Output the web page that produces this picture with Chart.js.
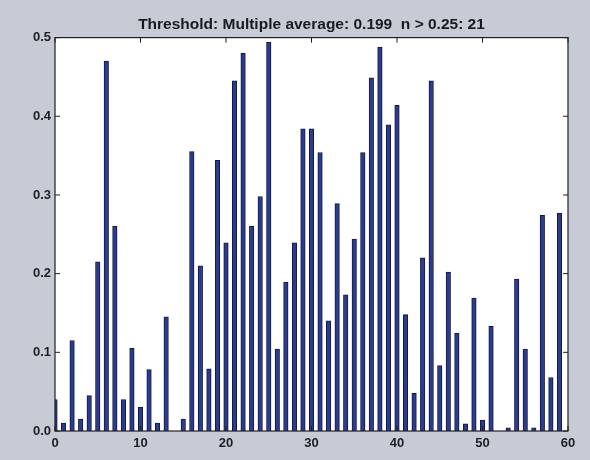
<!DOCTYPE html>
<html>
<head>
<meta charset="utf-8">
<script src="https://cdn.jsdelivr.net/npm/chart.js@4"></script>
<style>
  html, body { margin: 0; padding: 0; background: #c7cbd6; }
  #wrap { width: 590px; height: 460px; position: relative; }
</style>
</head>
<body>
<div id="wrap"><canvas id="thresholdChart"></canvas></div>
<script>
// valores (índice 0..59)
const titleText = 'Threshold: Multiple average: 0.199  n > 0.25: 21';
const positions = [];
for (let i = 0; i < 60; i++) positions.push(i);
const values = [
  0.040, 0.010, 0.115, 0.015, 0.045, 0.215, 0.470, 0.260, 0.040, 0.105,
  0.030, 0.078, 0.010, 0.145, 0.000, 0.015, 0.355, 0.210, 0.079, 0.344,
  0.239, 0.445, 0.480, 0.260, 0.298, 0.494, 0.104, 0.189, 0.239, 0.384,
  0.384, 0.354, 0.140, 0.289, 0.173, 0.244, 0.354, 0.449, 0.488, 0.389,
  0.414, 0.148, 0.048, 0.220, 0.445, 0.083, 0.202, 0.124, 0.009, 0.169,
  0.014, 0.133, 0.000, 0.004, 0.193, 0.104, 0.004, 0.274, 0.068, 0.277
];
const xTicks = [0, 10, 20, 30, 40, 50, 60];
const yTicks = [0, 0.1, 0.2, 0.3, 0.4, 0.5];

// caixa e ticks internos estilo MATLAB
const matlabFrame = {
  id: 'matlabFrame',
  afterLayout(chart) {
    // centraliza o título sobre a área do gráfico
    const t = chart.titleBlock;
    if (t) {
      t.left = chart.chartArea.left;
      t.right = chart.chartArea.right;
      t.width = t.right - t.left;
    }
  },
  beforeDatasetsDraw(chart) {
    const { ctx, chartArea: a } = chart;
    ctx.save();
    ctx.fillStyle = '#ffffff';
    ctx.fillRect(a.left, a.top, a.right - a.left, a.bottom - a.top);
    ctx.restore();
  },
  afterDraw(chart) {
    const { ctx, chartArea: a, scales } = chart;
    const len = 5;
    ctx.save();
    ctx.strokeStyle = '#1e1e24';
    ctx.lineWidth = 1.2;
    ctx.strokeRect(a.left, a.top, a.right - a.left, a.bottom - a.top);
    ctx.lineWidth = 1;
    ctx.beginPath();
    xTicks.forEach(v => {
      const x = scales.x.getPixelForValue(v);
      ctx.moveTo(x, a.bottom); ctx.lineTo(x, a.bottom - len);
      ctx.moveTo(x, a.top); ctx.lineTo(x, a.top + len);
    });
    yTicks.forEach(v => {
      const y = scales.y.getPixelForValue(v);
      ctx.moveTo(a.left, y); ctx.lineTo(a.left + len, y);
      ctx.moveTo(a.right, y); ctx.lineTo(a.right - len, y);
    });
    ctx.stroke();
    ctx.restore();
  }
};

const ctx = document.getElementById('thresholdChart');
new Chart(ctx, {
  type: 'bar',
  data: {
    datasets: [{
      data: positions.map((p, i) => ({ x: p, y: values[i] })),
      backgroundColor: '#2b3c90',
      borderColor: '#14183a',
      borderWidth: 1,
      barThickness: 4.5,
      clip: 0
    }]
  },
  options: {
    responsive: true,
    maintainAspectRatio: false,
    animation: false,
    layout: { padding: { left: 0, right: 22, top: 0, bottom: 0 } },
    scales: {
      x: {
        type: 'linear',
        min: 0,
        max: 60,
        offset: false,
        grid: { display: false, drawTicks: false },
        border: { display: false },
        afterFit: s => { s.height = 29; },
        afterBuildTicks: s => { s.ticks = xTicks.map(v => ({ value: v })); },
        ticks: {
          padding: 5,
          maxRotation: 0,
          color: '#1e1e22',
          font: { family: 'Liberation Sans', size: 13, weight: 'bold' }
        }
      },
      y: {
        min: 0,
        max: 0.5,
        grid: { display: false, drawTicks: false },
        border: { display: false },
        afterFit: s => { s.width = 55; },
        afterBuildTicks: s => { s.ticks = yTicks.map(v => ({ value: v })); },
        ticks: {
          padding: 4,
          color: '#1e1e22',
          font: { family: 'Liberation Sans', size: 13, weight: 'bold' },
          callback: v => Number(v).toFixed(1)
        }
      }
    },
    plugins: {
      legend: { display: false },
      tooltip: { enabled: false },
      title: {
        display: true,
        text: titleText,
        color: '#1a1a1e',
        padding: { top: 15, bottom: 4 },
        font: { family: 'Liberation Sans', size: 15.5, weight: 'bold' }
      }
    }
  },
  plugins: [matlabFrame]
});
</script>
</body>
</html>
